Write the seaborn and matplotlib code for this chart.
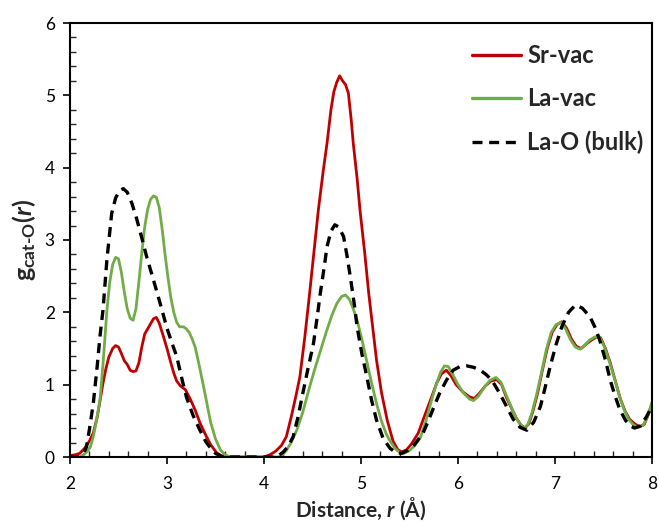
import numpy as np
import pandas as pd
import matplotlib
matplotlib.use("Agg")
import matplotlib.pyplot as plt
from matplotlib.ticker import MultipleLocator
import seaborn as sns

# Radial distribution functions g(r), cation-oxygen
sr_vac_r = [2.00, 2.05, 2.10, 2.15, 2.20, 2.24, 2.28, 2.31, 2.34, 2.37, 2.40, 2.44, 2.47, 2.50,
            2.53, 2.56, 2.59, 2.62, 2.65, 2.68, 2.71, 2.74, 2.77, 2.80, 2.83, 2.86, 2.89, 2.92,
            2.96, 3.00, 3.04, 3.07, 3.10, 3.14, 3.19, 3.24, 3.29, 3.34, 3.40, 3.45, 3.51, 3.57,
            3.65, 4.00, 4.06, 4.12, 4.18, 4.23, 4.28, 4.33, 4.37, 4.42, 4.47, 4.52, 4.56, 4.61,
            4.65, 4.69, 4.72, 4.75, 4.78, 4.81, 4.84, 4.87, 4.90, 4.92, 4.96, 4.99, 5.04, 5.08,
            5.12, 5.16, 5.21, 5.27, 5.33, 5.38, 5.42, 5.47, 5.52, 5.59, 5.65, 5.72, 5.78, 5.83,
            5.88, 5.93, 5.98, 6.05, 6.12, 6.17, 6.22, 6.28, 6.34, 6.40, 6.45, 6.50, 6.55, 6.60,
            6.65, 6.69, 6.73, 6.77, 6.82, 6.87, 6.92, 6.97, 7.02, 7.07, 7.12, 7.17, 7.22, 7.27,
            7.32, 7.38, 7.43, 7.47, 7.52, 7.57, 7.62, 7.67, 7.72, 7.77, 7.82, 7.87, 7.92, 7.96,
            8.00]
sr_vac_g = [0.02, 0.03, 0.05, 0.12, 0.22, 0.33, 0.55, 0.78, 1.02, 1.22, 1.38, 1.50, 1.54, 1.52,
            1.43, 1.33, 1.28, 1.20, 1.18, 1.19, 1.30, 1.52, 1.70, 1.77, 1.84, 1.91, 1.93, 1.85,
            1.68, 1.50, 1.30, 1.16, 1.05, 0.98, 0.93, 0.80, 0.65, 0.47, 0.30, 0.17, 0.06, 0.01,
            0.00, 0.00, 0.03, 0.08, 0.16, 0.28, 0.55, 0.85, 1.11, 1.65, 2.26, 2.90, 3.41, 3.95,
            4.34, 4.80, 5.05, 5.18, 5.27, 5.20, 5.15, 5.03, 4.65, 4.34, 3.85, 3.41, 2.80, 2.26,
            1.80, 1.34, 0.90, 0.51, 0.22, 0.10, 0.07, 0.10, 0.18, 0.33, 0.55, 0.80, 1.02, 1.15,
            1.20, 1.12, 1.00, 0.90, 0.83, 0.81, 0.88, 0.98, 1.05, 1.07, 1.00, 0.82, 0.68, 0.54,
            0.44, 0.40, 0.46, 0.62, 0.88, 1.20, 1.50, 1.72, 1.83, 1.87, 1.78, 1.63, 1.53, 1.50,
            1.56, 1.62, 1.66, 1.65, 1.50, 1.30, 1.06, 0.82, 0.64, 0.52, 0.46, 0.42, 0.45, 0.58,
            0.74]

la_vac_r = [2.00, 2.10, 2.14, 2.18, 2.21, 2.24, 2.27, 2.31, 2.34, 2.38, 2.41, 2.44, 2.47, 2.50,
            2.53, 2.56, 2.59, 2.62, 2.65, 2.68, 2.71, 2.74, 2.77, 2.80, 2.83, 2.86, 2.89, 2.92,
            2.95, 2.98, 3.01, 3.04, 3.07, 3.10, 3.13, 3.17, 3.20, 3.23, 3.26, 3.29, 3.33, 3.37,
            3.41, 3.45, 3.50, 3.55, 3.60, 3.65, 4.15, 4.19, 4.23, 4.28, 4.34, 4.40, 4.46, 4.52,
            4.58, 4.64, 4.70, 4.75, 4.80, 4.84, 4.88, 4.92, 4.96, 5.01, 5.06, 5.11, 5.16, 5.21,
            5.26, 5.30, 5.35, 5.40, 5.44, 5.49, 5.55, 5.61, 5.67, 5.72, 5.77, 5.82, 5.86, 5.90,
            5.95, 6.00, 6.06, 6.12, 6.16, 6.21, 6.27, 6.33, 6.39, 6.44, 6.49, 6.54, 6.59, 6.64,
            6.68, 6.72, 6.76, 6.81, 6.86, 6.91, 6.96, 7.01, 7.06, 7.11, 7.16, 7.21, 7.26, 7.31,
            7.36, 7.41, 7.46, 7.51, 7.56, 7.61, 7.66, 7.71, 7.76, 7.81, 7.86, 7.91, 7.96, 8.00]
la_vac_g = [0.00, 0.00, 0.03, 0.08, 0.14, 0.28, 0.48, 0.80, 1.28, 2.02, 2.42, 2.66, 2.76, 2.74,
            2.55, 2.28, 2.05, 1.92, 1.89, 2.05, 2.42, 2.82, 3.18, 3.42, 3.56, 3.61, 3.59, 3.45,
            3.15, 2.80, 2.48, 2.20, 2.00, 1.86, 1.80, 1.80, 1.77, 1.72, 1.63, 1.52, 1.28, 1.02,
            0.75, 0.48, 0.25, 0.10, 0.03, 0.00, 0.00, 0.03, 0.09, 0.20, 0.38, 0.62, 0.92, 1.20,
            1.46, 1.72, 1.96, 2.12, 2.22, 2.24, 2.18, 2.05, 1.89, 1.62, 1.32, 1.02, 0.74, 0.50,
            0.32, 0.22, 0.12, 0.06, 0.05, 0.08, 0.15, 0.26, 0.50, 0.75, 0.98, 1.17, 1.26, 1.25,
            1.13, 1.00, 0.88, 0.80, 0.78, 0.84, 0.96, 1.06, 1.10, 1.04, 0.88, 0.72, 0.56, 0.45,
            0.40, 0.45, 0.60, 0.86, 1.16, 1.48, 1.72, 1.83, 1.86, 1.77, 1.62, 1.52, 1.49, 1.55,
            1.62, 1.66, 1.66, 1.52, 1.32, 1.10, 0.86, 0.66, 0.52, 0.44, 0.41, 0.44, 0.58, 0.76]

la_o_bulk_r = [2.00, 2.10, 2.14, 2.17, 2.20, 2.24, 2.28, 2.31, 2.34, 2.38, 2.43, 2.47, 2.51, 2.55,
               2.59, 2.64, 2.69, 2.74, 2.79, 2.86, 2.93, 3.00, 3.05, 3.10, 3.15, 3.20, 3.27, 3.34,
               3.40, 3.44, 3.50, 3.56, 3.62, 4.10, 4.15, 4.20, 4.25, 4.30, 4.35, 4.40, 4.45, 4.51,
               4.55, 4.58, 4.62, 4.65, 4.69, 4.73, 4.77, 4.82, 4.86, 4.89, 4.93, 4.96, 5.01, 5.06,
               5.11, 5.16, 5.23, 5.30, 5.36, 5.42, 5.48, 5.55, 5.60, 5.64, 5.70, 5.76, 5.81, 5.88,
               5.95, 6.02, 6.09, 6.16, 6.23, 6.29, 6.35, 6.43, 6.50, 6.57, 6.64, 6.71, 6.78, 6.85,
               6.90, 6.95, 7.01, 7.07, 7.14, 7.21, 7.28, 7.36, 7.41, 7.46, 7.52, 7.57, 7.62, 7.67,
               7.73, 7.79, 7.82, 7.88, 7.94, 8.00]
la_o_bulk_g = [0.00, 0.00, 0.05, 0.14, 0.38, 0.74, 1.25, 1.68, 2.03, 2.72, 3.37, 3.58, 3.68, 3.71,
               3.66, 3.50, 3.28, 3.03, 2.77, 2.45, 2.12, 1.78, 1.58, 1.39, 1.10, 0.83, 0.57, 0.37,
               0.21, 0.14, 0.05, 0.01, 0.00, 0.00, 0.02, 0.07, 0.15, 0.28, 0.55, 0.88, 1.20, 1.57,
               1.95, 2.26, 2.62, 2.91, 3.12, 3.21, 3.18, 3.05, 2.75, 2.49, 2.12, 1.80, 1.42, 1.11,
               0.78, 0.51, 0.25, 0.12, 0.06, 0.05, 0.09, 0.17, 0.26, 0.33, 0.52, 0.72, 0.88, 1.06,
               1.20, 1.25, 1.26, 1.24, 1.20, 1.14, 1.06, 0.88, 0.70, 0.52, 0.41, 0.37, 0.48, 0.70,
               0.97, 1.25, 1.55, 1.80, 2.00, 2.10, 2.06, 1.94, 1.80, 1.62, 1.34, 1.06, 0.84, 0.65,
               0.50, 0.42, 0.40, 0.43, 0.55, 0.70]

series_labels = ["Sr-vac", "La-vac", "La-O (bulk)"]
series_colors = ["#C00000", "#70AD47", "#000000"]

sns.set_style("white")
plt.rcParams["font.family"] = ["Lato", "DejaVu Sans"]
plt.rcParams["mathtext.fontset"] = "custom"
plt.rcParams["mathtext.rm"] = "Lato:bold"
plt.rcParams["mathtext.bf"] = "Lato:bold"
plt.rcParams["mathtext.it"] = "Lato:bold:italic"

fig = plt.figure(figsize=(6.59, 5.25), dpi=100)
ax = fig.add_axes([70 / 659, 1 - 457 / 525, (652 - 70) / 659, (457 - 23) / 525])

curves = [
    (sr_vac_r, sr_vac_g, "-"),
    (la_vac_r, la_vac_g, "-"),
    (la_o_bulk_r, la_o_bulk_g, "--"),
]
for (r, g, ls), label, color in zip(curves, series_labels, series_colors):
    df = pd.DataFrame({"r": r, "g": g})
    sns.lineplot(data=df, x="r", y="g", ax=ax, color=color, linestyle=ls,
                 linewidth=2.0 if ls == "-" else 2.4, label=label,
                 sort=False, estimator=None)

# dashed pattern for the bulk reference curve
ax.lines[2].set_dashes([3.0, 2.0])

ax.set_xlim(2, 8)
ax.set_ylim(0, 6)
ax.xaxis.set_major_locator(MultipleLocator(1))
ax.xaxis.set_minor_locator(MultipleLocator(0.2))
ax.yaxis.set_major_locator(MultipleLocator(1))
ax.yaxis.set_minor_locator(MultipleLocator(0.2))
ax.tick_params(which="major", direction="out", length=5, width=1.2,
               labelsize=12.5, colors="#000000", pad=6)
ax.tick_params(axis="x", which="major", pad=9)
ax.tick_params(which="minor", direction="in", length=4, width=1.0)
ax.tick_params(axis="both", which="both", bottom=True, left=True, top=False, right=False)

for spine in ax.spines.values():
    spine.set_color("#000000")
    spine.set_linewidth(1.5)

ax.set_xlabel(r"Distance, $\mathit{r}$ (Å)", fontsize=15, fontweight="bold")
ax.xaxis.set_label_coords(0.5, -0.088)
ax.set_ylabel(r"$\mathbf{g}_{\mathbf{cat\text{-}O}}\mathbf{(}\mathit{r}\mathbf{)}$",
              fontsize=18, labelpad=5)

leg = ax.legend(loc="upper right", bbox_to_anchor=(1.022, 1.0), frameon=False,
                handlelength=2.1, handletextpad=0.25, labelspacing=0.85,
                prop={"weight": "bold", "size": 17})
for h in leg.get_lines():
    h.set_linewidth(2.4)
leg.get_lines()[2].set_dashes([3.0, 2.0])

fig.savefig("out.png", dpi=100)
